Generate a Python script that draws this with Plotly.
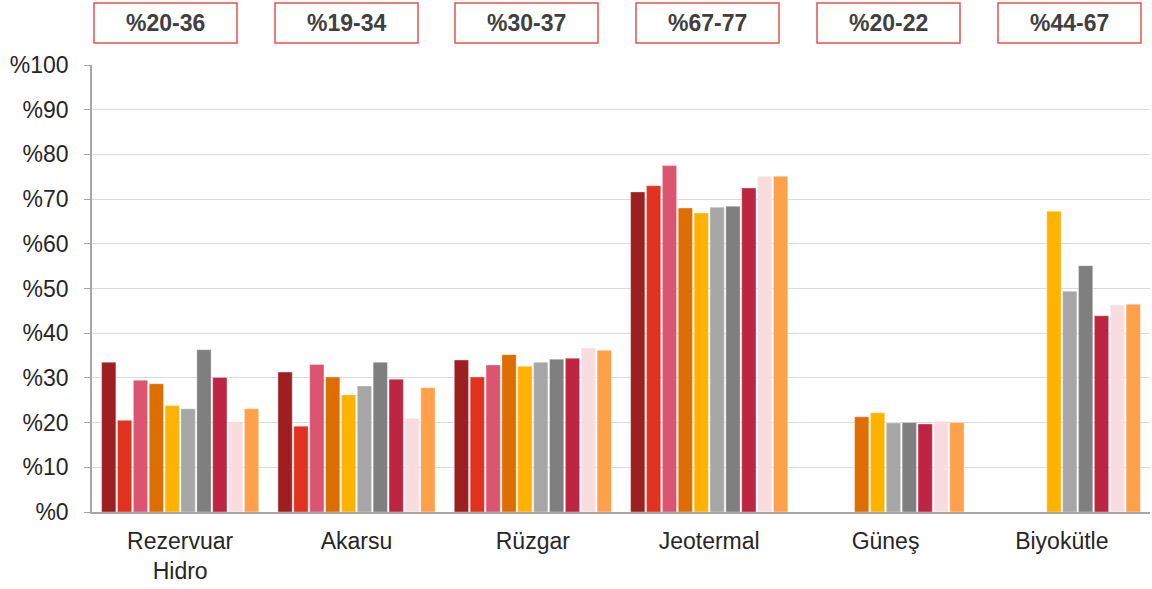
import plotly.graph_objects as go

categories = ["Rezervuar<br>Hidro", "Akarsu", "Rüzgar", "Jeotermal", "Güneş", "Biyokütle"]
range_labels = ["%20-36", "%19-34", "%30-37", "%67-77", "%20-22", "%44-67"]

s1 = [33.5, 31.3, 34.0, 71.6, None, None]
s2 = [20.5, 19.2, 30.2, 73.0, None, None]
s3 = [29.5, 33.0, 32.9, 77.5, None, None]
s4 = [28.7, 30.2, 35.2, 68.0, 21.3, None]
s5 = [23.8, 26.2, 32.6, 66.9, 22.2, 67.3]
s6 = [23.1, 28.2, 33.5, 68.2, 19.9, 49.4]
s7 = [36.3, 33.5, 34.2, 68.4, 20.0, 55.1]
s8 = [30.1, 29.7, 34.4, 72.5, 19.7, 43.9]
s9 = [20.2, 21.0, 36.7, 75.1, 20.3, 46.3]
s10 = [23.1, 27.8, 36.2, 75.1, 20.0, 46.5]

series = [s1, s2, s3, s4, s5, s6, s7, s8, s9, s10]
colors = ["#9E1F22", "#E0321E", "#DB5470", "#DE6E00", "#FFB300",
          "#A6A6A6", "#7F7F7F", "#BE2543", "#F8DCE0", "#FFA14A"]

yticks = [0, 10, 20, 30, 40, 50, 60, 70, 80, 90, 100]
ytick_text = ["%" + str(v) for v in yticks]

fig = go.Figure()
for vals, c in zip(series, colors):
    fig.add_trace(go.Bar(x=categories, y=vals,
                         marker=dict(color=c, line=dict(color="rgba(255,255,255,0.6)", width=0.6)),
                         showlegend=False, hoverinfo="y"))

W, H = 1152, 589
ml, mr, mt, mb = 92, 2, 65, 77
pw = W - ml - mr
ph = H - mt - mb

fig.update_layout(
    width=W, height=H,
    margin=dict(l=ml, r=mr, t=mt, b=mb),
    paper_bgcolor="white", plot_bgcolor="white",
    barmode="group", bargap=0.1, bargroupgap=0.1,
    font=dict(family="Liberation Sans, Arial, sans-serif", size=23, color="#262626"),
    xaxis=dict(showline=True, linecolor="#A6A6A6", linewidth=1.5, ticks="",
               tickfont=dict(size=23, color="#262626"), showgrid=False,
               automargin=False, ticklabelstandoff=8),
    yaxis=dict(range=[0, 100], tickvals=yticks, ticktext=ytick_text,
               showgrid=True, gridcolor="#DCDCDC", gridwidth=1.2,
               showline=True, linecolor="#A6A6A6", linewidth=1.5,
               ticks="outside", ticklen=6, tickcolor="#A6A6A6",
               tickfont=dict(size=23, color="#262626"), zeroline=False,
               automargin=False, ticklabelstandoff=11),
)

box_left_px = [94, 275, 455, 636, 817, 998]
box_w = 143
for lbl, bx in zip(range_labels, box_left_px):
    x0 = (bx - ml) / pw
    x1 = (bx + box_w - ml) / pw
    y0 = 1 + (mt - 43) / ph
    y1 = 1 + (mt - 3) / ph
    fig.add_shape(type="rect", xref="paper", yref="paper", x0=x0, x1=x1, y0=y0, y1=y1,
                  line=dict(color="#E8524A", width=1.5), fillcolor="white")
    fig.add_annotation(xref="paper", yref="paper", x=(x0 + x1) / 2, y=(y0 + y1) / 2,
                       xanchor="center", yanchor="middle",
                       text="<b>" + lbl + "</b>", showarrow=False,
                       font=dict(size=23, color="#404040"))

fig.write_html("out.html", config={"displayModeBar": False},
               post_script="document.body.style.margin='0';document.body.style.overflow='hidden';")
